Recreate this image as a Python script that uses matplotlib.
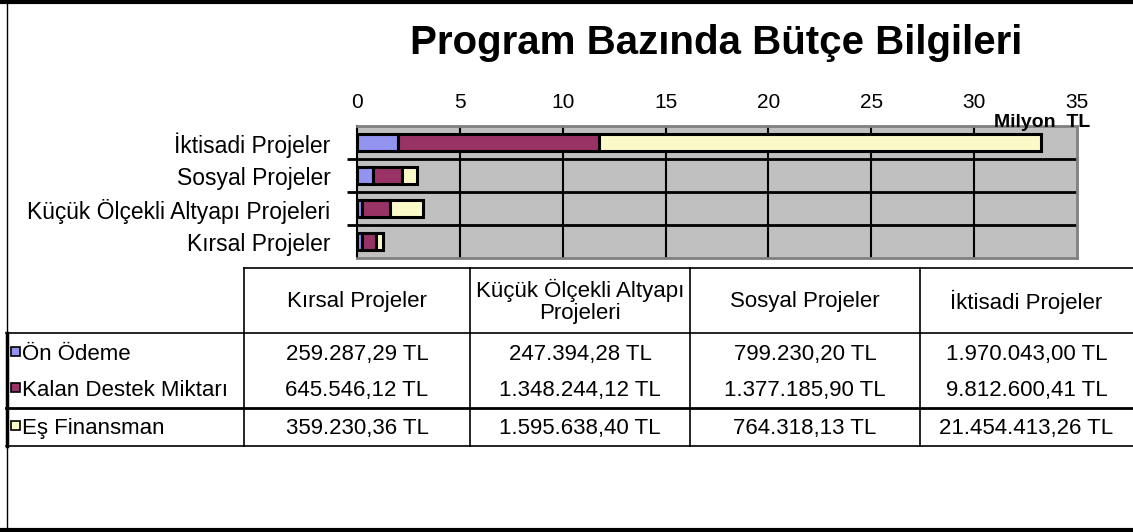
import numpy as np
import matplotlib
matplotlib.use("Agg")
import matplotlib.pyplot as plt
from matplotlib.lines import Line2D
from matplotlib.patches import Rectangle

plt.rcParams['font.family'] = ['Liberation Sans', 'DejaVu Sans']

categories = ['Kırsal Projeler', 'Küçük Ölçekli Altyapı Projeleri',
              'Sosyal Projeler', 'İktisadi Projeler']
table_headers = ['Kırsal Projeler', 'Küçük Ölçekli Altyapı\nProjeleri',
                 'Sosyal Projeler', 'İktisadi Projeler']
series_names = ['Ön Ödeme', 'Kalan Destek Miktarı', 'Eş Finansman']
on_odeme = [259287.29, 247394.28, 799230.20, 1970043.00]
kalan_destek = [645546.12, 1348244.12, 1377185.90, 9812600.41]
es_finansman = [359230.36, 1595638.40, 764318.13, 21454413.26]
colors = ['#9393F0', '#993366', '#FAFAC8']
x_ticks = [0, 5, 10, 15, 20, 25, 30, 35]

W, H = 1133, 532
FS = 16


def tl(v):
    s = f"{v:,.2f}"
    s = s.replace(',', 'X').replace('.', ',').replace('X', '.')
    return s + ' TL'


fig = plt.figure(figsize=(W / 100, H / 100), dpi=100)

# chart area
ax = fig.add_axes([357 / W, 1 - 258 / H, 720 / W, 132 / H])
ax.set_facecolor('#C0C0C0')
y = np.arange(len(categories))
series = [on_odeme, kalan_destek, es_finansman]
left = np.zeros(len(categories))
for name, vals, c in zip(series_names, series, colors):
    v = np.array(vals) / 1e6
    ax.barh(y, v, left=left, height=0.5, color=c, edgecolor='black',
            linewidth=2.2, zorder=3, label=name)
    left += v
ax.set_xlim(0, 35)
ax.set_ylim(-0.5, len(categories) - 0.5)
ax.set_xticks(x_ticks)
ax.xaxis.tick_top()
ax.tick_params(axis='x', length=0, labelsize=15, pad=10)
ax.set_yticks(y)
ax.set_yticklabels(categories, fontsize=16.5)
ax.tick_params(axis='y', which='major', length=0, pad=19)
ax.set_yticks(np.arange(len(categories) - 1) + 0.5, minor=True)
ax.tick_params(axis='y', which='minor', length=7, width=2, color='black')
for xt in x_ticks[1:-1]:
    ax.axvline(xt, color='black', lw=1.5, zorder=1)
for yt in np.arange(len(categories) - 1) + 0.5:
    ax.axhline(yt, color='black', lw=2, zorder=1)
for s in ['top', 'right', 'bottom']:
    ax.spines[s].set_color('#808080')
    ax.spines[s].set_linewidth(2)
ax.spines['left'].set_color('black')
ax.spines['left'].set_linewidth(1.5)
ax.text(1.018, 1.03, 'Milyon  TL', transform=ax.transAxes, ha='right',
        va='center', fontsize=14, fontweight='bold')

fig.text(716 / W, 1 - 43 / H, 'Program Bazında Bütçe Bilgileri',
         ha='center', va='center', fontsize=29, fontweight='bold')

# table + frame drawn in pixel coordinates
tab = fig.add_axes([0, 0, 1, 1], facecolor='none')
tab.set_xlim(0, W)
tab.set_ylim(H, 0)
tab.axis('off')


def hline(yy, x0, x1, lw=1.2):
    tab.add_line(Line2D([x0, x1], [yy, yy], color='black', lw=lw))


def vline(xx, y0, y1, lw=1.2):
    tab.add_line(Line2D([xx, xx], [y0, y1], color='black', lw=lw))


col_x = [244, 470, 690, 920, W]
row_y = [268, 333, 370, 408, 446]
hline(2, 0, W, lw=3)
hline(530, 0, W, lw=3)
vline(7, 0, H, lw=1)
vline(6.5, row_y[1], row_y[-1], lw=2.5)
hline(row_y[0], col_x[0], W)
hline(row_y[1], 6, W)
hline(row_y[3], 6, W, lw=2)
hline(row_y[4], 6, W)
for xx in col_x[:-1]:
    vline(xx, row_y[0], row_y[-1])

for i, hdr in enumerate(table_headers):
    cx = (col_x[i] + col_x[i + 1]) / 2
    tab.text(cx, (row_y[0] + row_y[1]) / 2 + 1, hdr, ha='center',
             va='center', fontsize=FS, linespacing=1.05)

row_centers = [352, 388, 426]
for r, (name, vals, c) in enumerate(zip(series_names, series, colors)):
    yc = row_centers[r]
    tab.add_patch(Rectangle((11, yc - 5), 9, 9, facecolor=c,
                            edgecolor='black', lw=1.2))
    tab.text(22, yc, name, ha='left', va='center_baseline', fontsize=FS)
    for i, v in enumerate(vals):
        cx = (col_x[i] + col_x[i + 1]) / 2
        tab.text(cx, yc, tl(v), ha='center', va='center_baseline',
                 fontsize=FS)

fig.savefig('out.png', dpi=100)
